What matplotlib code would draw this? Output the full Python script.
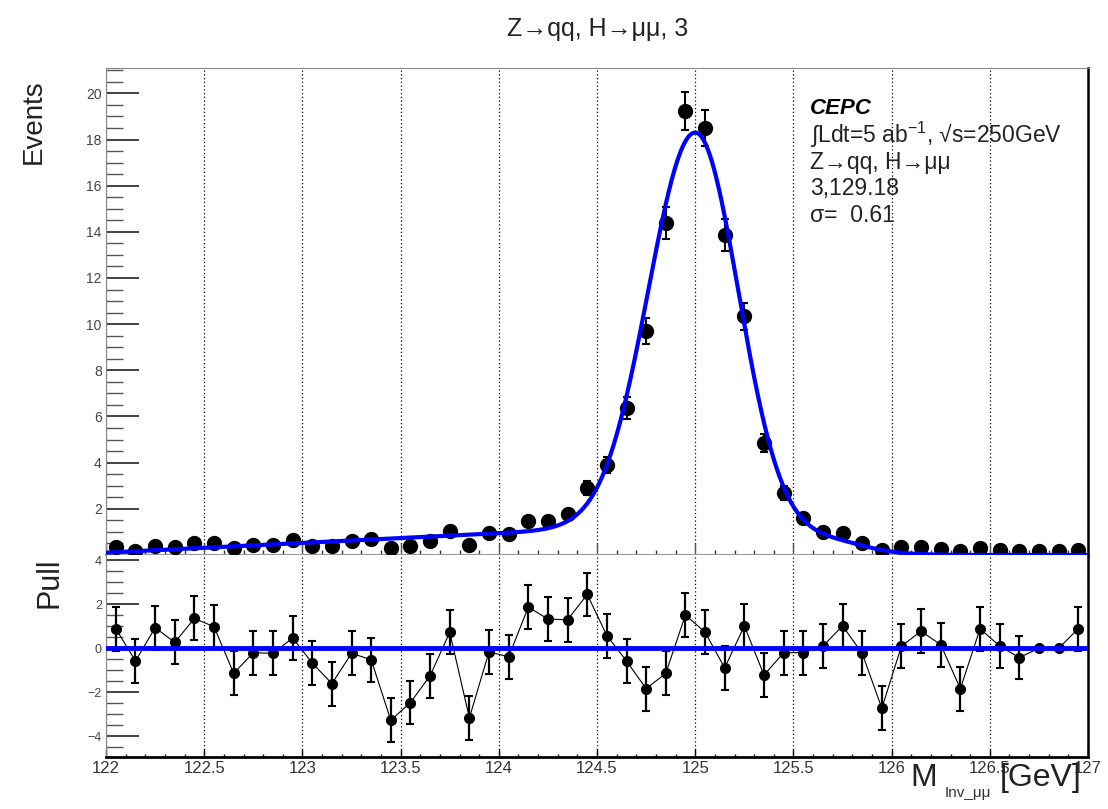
import numpy as np
import matplotlib
matplotlib.use('Agg')
import matplotlib.pyplot as plt
from matplotlib.ticker import MultipleLocator

plt.rcParams['font.family'] = ['Liberation Sans', 'DejaVu Sans']
plt.rcParams['mathtext.fontset'] = 'custom'
plt.rcParams['mathtext.rm'] = 'Liberation Sans'
plt.rcParams['mathtext.it'] = 'Liberation Sans:italic'
plt.rcParams['mathtext.bf'] = 'Liberation Sans:bold'

# --- data ---
bin_edges = np.linspace(122.0, 127.0, 51)
mass = 0.5 * (bin_edges[:-1] + bin_edges[1:])

events = [
    0.33, 0.19, 0.39, 0.33, 0.51, 0.51, 0.29, 0.43, 0.43, 0.65,
    0.39, 0.39, 0.62, 0.68, 0.29, 0.39, 0.62, 1.06, 0.43, 0.94,
    0.89, 1.47, 1.47, 1.76, 2.89, 3.90, 6.36, 9.69, 14.39, 19.23,
    18.51, 13.88, 10.34, 4.85, 2.70, 1.59, 1.01, 0.94, 0.51, 0.22,
    0.36, 0.33, 0.25, 0.17, 0.29, 0.22, 0.17, 0.17, 0.17, 0.22]
events_err = [
    0.11, 0.08, 0.12, 0.11, 0.13, 0.13, 0.10, 0.12, 0.12, 0.15,
    0.12, 0.12, 0.15, 0.15, 0.10, 0.12, 0.15, 0.19, 0.12, 0.18,
    0.17, 0.22, 0.22, 0.24, 0.31, 0.36, 0.47, 0.57, 0.70, 0.81,
    0.79, 0.69, 0.59, 0.41, 0.30, 0.23, 0.19, 0.18, 0.13, 0.09,
    0.11, 0.11, 0.09, 0.08, 0.10, 0.09, 0.08, 0.08, 0.08, 0.09]

pull = [
    0.89, -0.58, 0.94, 0.27, 1.36, 0.98, -1.14, -0.20, -0.23, 0.47,
    -0.67, -1.61, -0.23, -0.52, -3.28, -2.47, -1.25, 0.73, -3.17, -0.16,
    -0.39, 1.88, 1.33, 1.30, 2.45, 0.58, -0.58, -1.84, -1.14, 1.52,
    0.73, -0.89, 1.02, -1.22, -0.20, -0.20, 0.10, 1.02, -0.23, -2.73,
    0.10, 0.78, 0.16, -1.84, 0.89, 0.10, -0.42, 0.00, 0.00, 0.89]
pull_err = [1.0] * 47 + [0.0, 0.0, 1.0]

# fit model parameters (bifurcated gaussian + low-mass tail + shoulder)
peak_mean = 125.0
peak_amp = 17.5
sigma_left = 0.24
sigma_right = 0.22
tail_offset = 0.10
tail_slope = 0.42
shoulder_height = 0.8

title = 'Z→qq, H→μμ, 3'
info_lines = ['∫Ldt=5 ab$^{-1}$, √s=250GeV', 'Z→qq, H→μμ', '3,129.18',
              'σ=  0.61']
info_ypix = [135, 162, 189, 216]


def fit_model(x):
    """."""
    sig = np.where(x < peak_mean, sigma_left, sigma_right)
    core = peak_amp * np.exp(-(x - peak_mean)**2 / (2 * sig**2))
    tail = tail_offset + tail_slope * (x - 122.0)
    s1 = 1.0 / (1.0 + np.exp((x - 124.45) / 0.08))
    s2 = 1.0 / (1.0 + np.exp((x - 125.85) / 0.10))
    extra = (tail * s1 + shoulder_height * (1 - s1)) * s2
    return core + extra


xfit = np.linspace(122.0, 127.0, 1001)
yfit = fit_model(xfit)

fig = plt.figure(figsize=(11.08, 8.09), dpi=100)
ax1 = fig.add_axes([0.0957, 0.314, 0.8863, 0.602])
ax2 = fig.add_axes([0.0957, 0.0643, 0.8863, 0.2497])

# --- top panel ---
ax1.errorbar(mass, events, yerr=events_err, fmt='o', color='k', ms=10,
             elinewidth=1.5, capsize=3, capthick=1.5, zorder=3)
ax1.plot(xfit, yfit, color='#0000ff', lw=3, zorder=4)
ax1.set_xlim(122.0, 127.0)
ax1.set_ylim(0, 21.1)

# --- pull panel ---
ax2.plot(mass, pull, color='k', lw=0.8, zorder=2)
ax2.errorbar(mass, pull, yerr=pull_err, fmt='o', color='k', ms=7,
             elinewidth=1.6, capsize=3, capthick=1.5, zorder=3)
ax2.axhline(0.0, color='#0000ff', lw=3.5, zorder=4)
ax2.set_xlim(122.0, 127.0)
ax2.set_ylim(-4.95, 4.25)

for ax in (ax1, ax2):
    ax.xaxis.set_major_locator(MultipleLocator(0.5))
    ax.xaxis.set_minor_locator(MultipleLocator(0.1))
    ax.yaxis.set_major_locator(MultipleLocator(2))
    ax.yaxis.set_minor_locator(MultipleLocator(0.5))
    ax.grid(axis='x', which='major', color='k', lw=0.9,
            linestyle=(0, (1, 2)))
    ax.set_axisbelow(True)
    ax.tick_params(axis='y', which='major', direction='in', length=24,
                   width=1.2, color='#222222', labelcolor='#444444', pad=3)
    ax.tick_params(axis='y', which='minor', direction='in', length=12,
                   width=1.0, color='#555555')
    ax.spines['left'].set_color('#888888')
    ax.spines['top'].set_color('#888888')
    ax.spines['right'].set_color('k')
    ax.spines['right'].set_linewidth(1.8)

ax1.tick_params(axis='x', which='major', direction='in', length=9,
                width=1.0, color='#555555', labelbottom=False)
ax1.tick_params(axis='x', which='minor', direction='in', length=3.5,
                width=1.0, color='#333333')
ax1.tick_params(axis='y', labelsize=10)
ax1.spines['bottom'].set_color('#999999')
ax1.spines['bottom'].set_linewidth(1.5)
ax1.set_yticks(np.arange(2, 21, 2))

ax2.tick_params(axis='x', which='major', direction='in', length=6,
                width=1.0, color='k', labelsize=12, labelcolor='#333333',
                pad=3)
ax2.tick_params(axis='x', which='minor', direction='in', length=2.5,
                width=1.0, color='k')
ax2.tick_params(axis='y', labelsize=9)
ax2.spines['bottom'].set_linewidth(2.0)
ax2.spines['top'].set_visible(False)
ax2.set_yticks([-4, -2, 0, 2, 4])
ax2.set_xticks(np.arange(122.0, 127.01, 0.5))
ax2.set_xticklabels(['122', '122.5', '123', '123.5', '124', '124.5', '125',
                     '125.5', '126', '126.5', '127'])

# --- text ---
fig.text(0.539, 1 - 29 / 809, title, fontsize=18, ha='center', va='center',
         color='#222222')
fig.text(34 / 1108, 1 - 122 / 809, 'Events', fontsize=20, rotation=90,
         ha='center', va='center', color='#222222')
fig.text(50 / 1108, 1 - 583 / 809, 'Pull', fontsize=22, rotation=90,
         ha='center', va='center', color='#222222')

fig.text(810 / 1108, 1 - 108 / 809, 'CEPC', fontsize=16, style='italic',
         weight='bold', ha='left', va='center')
for line, ypix in zip(info_lines, info_ypix):
    fig.text(810 / 1108, 1 - ypix / 809, line, fontsize=16.5, ha='left',
             va='center', color='#222222')

# x axis title M_{Inv_mumu}[GeV]
fig.text(937 / 1108, 1 - 786 / 809, 'M', fontsize=23, ha='right',
         va='baseline', color='#222222')
fig.text(968 / 1108, 1 - 797 / 809, 'Inv_μμ', fontsize=11, ha='center',
         va='baseline', color='#333333')
fig.text(1000 / 1108, 1 - 786 / 809, '[GeV]', fontsize=23, ha='left',
         va='baseline', color='#222222')

fig.savefig('out.png', dpi=100)
